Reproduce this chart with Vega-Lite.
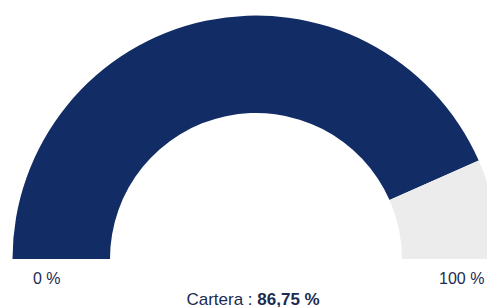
{
  "$schema": "https://vega.github.io/schema/vega-lite/v6.json",
  "autosize": {"type": "none"},
  "width": 462,
  "height": 96,
  "padding": {"left": 25, "top": 211, "right": 0, "bottom": 0},
  "background": "white",
  "config": {"view": {"stroke": null}, "font": "Liberation Sans"},
  "layer": [
    {
      "data": {"values": [
        {"segment": "Cartera", "value": 86.75, "rank": 1},
        {"segment": "Resto", "value": 13.25, "rank": 2}
      ]},
      "mark": {"type": "arc", "radius": 243.5, "radius2": 146, "stroke": null},
      "encoding": {
        "theta": {"field": "value", "type": "quantitative", "stack": true,
                  "scale": {"domain": [0, 100], "range": [-1.5707963, 1.5707963]}},
        "order": {"field": "rank", "type": "quantitative"},
        "color": {"field": "segment", "type": "nominal",
                  "scale": {"domain": ["Cartera", "Resto"], "range": ["#122d66", "#ececec"]},
                  "legend": null}
      }
    },
    {
      "data": {"values": [
        {"label": "0 %", "pos": 0},
        {"label": "100 %", "pos": 100}
      ]},
      "mark": {"type": "text", "fontSize": 16, "color": "#1c2b50", "align": "center", "baseline": "alphabetic", "dy": 24.7},
      "encoding": {
        "x": {"field": "pos", "type": "quantitative", "scale": {"domain": [-5.23, 106.1], "nice": false, "zero": false}, "axis": null},
        "text": {"field": "label"}
      }
    },
    {
      "data": {"values": [{"name": "Cartera :", "pct": "86,75 %", "pos": 50}]},
      "layer": [
        {
          "mark": {"type": "text", "fontSize": 17, "color": "#1c2b50", "align": "right", "baseline": "alphabetic", "dy": 45.7, "dx": -1.6},
          "encoding": {
            "x": {"field": "pos", "type": "quantitative", "axis": null},
            "text": {"field": "name"}
          }
        },
        {
          "mark": {"type": "text", "fontSize": 17, "fontWeight": "bold", "color": "#1c2b50", "align": "left", "baseline": "alphabetic", "dy": 45.7, "dx": 3.1},
          "encoding": {
            "x": {"field": "pos", "type": "quantitative", "axis": null},
            "text": {"field": "pct"}
          }
        }
      ]
    }
  ]
}
